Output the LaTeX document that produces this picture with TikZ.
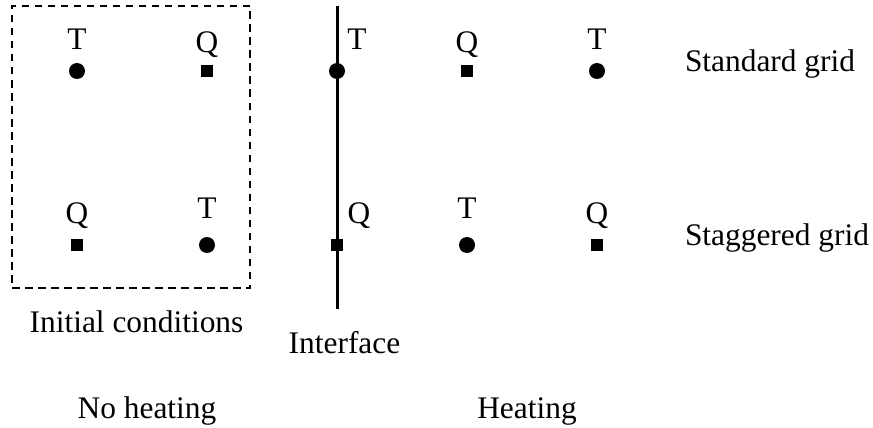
\documentclass[tikz,border=0pt]{standalone}
\usepackage{fontspec}
\setmainfont{Liberation Serif}
\begin{document}
\begin{tikzpicture}[x=1pt,y=-1pt,
  every node/.style={inner sep=0pt,outer sep=0pt},
  lbl/.style={anchor=base,font=\fontsize{31.4}{36}\selectfont},
  tdot/.style={circle,fill=black,minimum size=16pt},
  qdot/.style={rectangle,fill=black,minimum size=12pt},
  box/.style={draw=black,line width=2pt,dash pattern=on 7.5pt off 5.5pt},
  iface/.style={draw=black,line width=3pt}]
\useasboundingbox (0,0) rectangle (873,428);
% dashed box
\node[box,minimum width=238pt,minimum height=282pt] (ic) at (131,147) {};
% interface line
\coordinate (itop) at (337,6);
\coordinate (ibot) at (337,309);
\draw[iface] (itop) -- (ibot);
% initial conditions grid
\node[tdot] (a1) at (77,71) {};
\node[qdot] (a2) at (207,71) {};
\node[qdot] (a3) at (77,245) {};
\node[tdot] (a4) at (207,245) {};
\node[lbl] (la1) at (77,50) {T};
\node[lbl] (la2) at (207,53) {Q};
\node[lbl] (la3) at (77,223) {Q};
\node[lbl] (la4) at (207,218) {T};
% heating grid
\node[tdot] (b1) at (337,71) {};
\node[qdot] (b2) at (467,71) {};
\node[tdot] (b3) at (597,71) {};
\node[qdot] (b4) at (337,245) {};
\node[tdot] (b5) at (467,245) {};
\node[qdot] (b6) at (597,245) {};
\node[lbl] (lb1) at (357,50) {T};
\node[lbl] (lb2) at (467,53) {Q};
\node[lbl] (lb3) at (597,50) {T};
\node[lbl] (lb4) at (359,223) {Q};
\node[lbl] (lb5) at (467,218) {T};
\node[lbl] (lb6) at (597,223) {Q};
% captions
\node[lbl,anchor=base west] (std) at (685,72) {Standard grid};
\node[lbl,anchor=base west] (stg) at (685,245) {Staggered grid};
\node[lbl] (init) at (136.5,332) {Initial conditions};
\node[lbl] (intf) at (344.5,353) {Interface};
\node[lbl] (noh) at (147,418) {No heating};
\node[lbl] (heat) at (527,418) {Heating};
\end{tikzpicture}
\end{document}
